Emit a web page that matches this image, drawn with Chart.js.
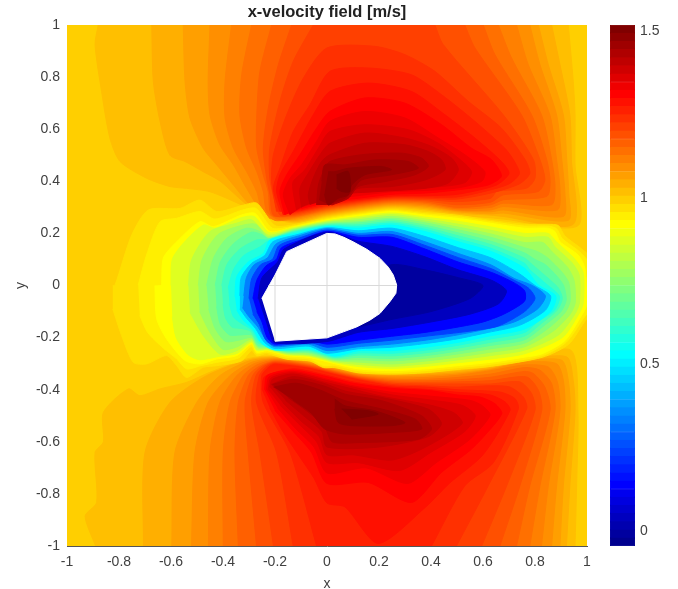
<!DOCTYPE html>
<html lang="en">
  <head>
    <meta charset="UTF-8" />
    <title>x-velocity field</title>
    <script src="https://cdn.jsdelivr.net/npm/chart.js"></script>
    <style>
      body { margin: 0; background: #fff; }
      #wrap { position: relative; width: 678px; height: 589px; overflow: hidden; }
      canvas { position: absolute; top: 0; }
      #field { left: 0; }
      #colorbar { left: 600px; }
    </style>
  </head>
  <body>
    <div id="wrap">
      <canvas id="field" width="678" height="589"></canvas>
      <canvas id="colorbar" width="78" height="589"></canvas>
    </div>
    <script>
      // contour outlines as [x, y]. number = jet(64) colour index
      const tickValues = [-1, -0.8, -0.6, -0.4, -0.2, 0, 0.2, 0.4, 0.6, 0.8, 1];
      const colorbarTicks = [0, 0.5, 1, 1.5];
      const colorbarMin = -0.045;
      const colorbarMax = 1.518;
      const baseLevel = 43;
      const plotSquare = [[-1,-1],[1,-1],[1,1],[-1,1]];

      // regions above a level, upper half
      const upper44 = [[-.88,1],[-.892,.925],[-.867,.745],[-.835,.566],[-.796,.476],[-.694,.412],[-.604,.38],[-.54,.373],[-.45,.36],[-.33,.31],[-.25,.27],[-.13,.241],[0,.268],[.12,.286],[.25,.3],[.38,.29],[.5,.272],[.63,.26],[.678,.255],[.966,.23],[.954,.463],[.954,.655],[.947,.784],[.928,1]];
      const upper45 = [[-.674,1],[-.668,.784],[-.642,.63],[-.604,.5],[-.546,.476],[-.476,.437],[-.41,.4],[-.32,.32],[-.25,.275],[-.13,.245],[0,.272],[.12,.29],[.25,.304],[.38,.295],[.5,.278],[.63,.27],[.678,.265],[.947,.235],[.94,.483],[.934,.655],[.896,.848],[.864,1]];
      const upper46 = [[-.553,1],[-.546,.784],[-.527,.643],[-.476,.527],[-.424,.463],[-.36,.386],[-.296,.309],[-.24,.27],[-.13,.249],[0,.276],[.12,.294],[.25,.308],[.38,.3],[.5,.283],[.63,.275],[.678,.278],[.928,.25],[.93,.35],[.922,.483],[.909,.655],[.851,.848],[.813,1]];
      const upper47 = [[-.45,1],[-.457,.784],[-.45,.655],[-.412,.54],[-.36,.463],[-.309,.373],[-.27,.309],[-.23,.26],[-.13,.253],[0,.28],[.12,.298],[.25,.312],[.38,.305],[.5,.287],[.63,.283],[.678,.29],[.909,.265],[.915,.354],[.903,.483],[.883,.655],[.819,.848],[.78,1]];
      const upper48 = [[-.367,1],[-.392,.784],[-.392,.643],[-.36,.527],[-.309,.437],[-.27,.36],[-.251,.296],[-.2,.25],[-.13,.257],[0,.284],[.12,.302],[.25,.316],[.38,.31],[.5,.29],[.63,.29],[.678,.303],[.886,.29],[.896,.367],[.883,.483],[.857,.655],[.774,.848],[.729,1]];
      const upper49 = [[-.29,1],[-.328,.81],[-.335,.655],[-.309,.527],[-.27,.437],[-.245,.36],[-.232,.284],[-.19,.255],[-.13,.261],[0,.288],[.12,.306],[.25,.32],[.38,.315],[.5,.295],[.63,.3],[.678,.316],[.864,.31],[.877,.38],[.864,.483],[.825,.655],[.71,.873],[.659,1]];
      const upper50 = [[-.213,1],[-.258,.822],[-.27,.655],[-.27,.527],[-.245,.424],[-.226,.36],[-.213,.27],[-.13,.265],[0,.292],[.12,.31],[.25,.324],[.38,.32],[.5,.3],[.63,.31],[.678,.329],[.845,.342],[.858,.4],[.845,.483],[.787,.655],[.646,.886],[.601,1]];
      const upper51 = [[-.136,1],[-.187,.848],[-.226,.68],[-.245,.527],[-.232,.412],[-.219,.348],[-.206,.27],[-.13,.269],[0,.296],[.12,.314],[.25,.328],[.38,.325],[.5,.31],[.63,.32],[.678,.348],[.813,.361],[.838,.406],[.819,.483],[.748,.655],[.569,.912],[.53,1]];
      const upper52 = [[-.053,1],[-.13,.86],[-.181,.707],[-.22,.527],[-.22,.412],[-.2,.322],[-.18,.27],[-.13,.273],[0,.3],[.12,.318],[.25,.332],[.38,.33],[.5,.322],[.63,.335],[.653,.361],[.768,.374],[.8,.412],[.794,.483],[.678,.655],[.447,.925],[.415,1]];
      const upper53 = [[-.194,.284],[-.213,.399],[-.206,.502],[-.155,.655],[-.091,.796],[0,.912],[.184,.918],[.3,.886],[.415,.822],[.543,.707],[.671,.604],[.762,.483],[.78,.43],[.74,.39],[.63,.355],[.5,.332],[.38,.335],[.25,.336],[.12,.322],[0,.304],[-.13,.277]];
      const upper54 = [[-.181,.284],[-.206,.373],[-.181,.45],[-.13,.591],[-.065,.694],[.011,.822],[.159,.835],[.325,.809],[.441,.732],[.569,.63],[.684,.527],[.717,.483],[.74,.43],[.7,.39],[.6,.36],[.5,.34],[.38,.34],[.25,.34],[.12,.326],[0,.308],[-.13,.281]];
      const upper55 = [[-.168,.271],[-.194,.361],[-.181,.425],[-.13,.514],[-.053,.655],[.011,.745],[.159,.777],[.325,.745],[.454,.655],[.569,.566],[.671,.476],[.7,.43],[.65,.385],[.5,.35],[.38,.345],[.25,.344],[.12,.33],[0,.315],[-.1,.29]];
      const upper56 = [[-.162,.271],[-.181,.361],[-.155,.425],[-.104,.502],[-.04,.604],[.011,.668],[.146,.72],[.3,.7],[.441,.617],[.556,.527],[.633,.483],[.671,.42],[.62,.386],[.5,.367],[.38,.355],[.25,.35],[.12,.335],[0,.32],[-.1,.295]];
      const upper57 = [[-.142,.271],[-.168,.348],[-.142,.412],[-.098,.463],[-.04,.553],[.011,.63],[.146,.668],[.3,.643],[.428,.566],[.53,.502],[.607,.437],[.595,.4],[.505,.375],[.38,.365],[.25,.36],[.12,.345],[0,.33],[-.1,.3]];
      const upper58 = [[-.117,.29],[-.13,.36],[-.13,.399],[-.085,.444],[-.033,.527],[.011,.591],[.146,.617],[.313,.598],[.428,.546],[.505,.489],[.556,.437],[.53,.395],[.415,.378],[.25,.37],[.12,.36],[0,.34],[-.08,.31]];
      const upper59 = [[-.098,.3],[-.104,.373],[-.072,.431],[-.027,.502],[.011,.546],[.146,.585],[.3,.566],[.402,.534],[.479,.489],[.505,.444],[.466,.393],[.377,.373],[.184,.36],[.05,.35],[-.05,.32]];
      const upper60 = [[-.065,.31],[-.072,.348],[-.053,.412],[-.021,.476],[.011,.502],[.146,.546],[.3,.54],[.39,.514],[.441,.482],[.454,.444],[.377,.405],[.248,.38],[.12,.373],[.056,.341],[0,.33]];
      const upper61 = [[-.04,.309],[-.033,.386],[-.014,.437],[.011,.476],[.133,.502],[.287,.508],[.364,.489],[.39,.457],[.338,.425],[.223,.399],[.12,.38],[.082,.335],[.018,.309]];
      const upper62 = [[-.02,.4],[-.008,.463],[.069,.463],[.184,.482],[.313,.476],[.351,.45],[.248,.425],[.133,.405],[.095,.361],[.069,.335],[.005,.316],[-.03,.33]];
      const upper63 = [[.005,.437],[.03,.437],[.082,.45],[.21,.457],[.248,.444],[.146,.425],[.095,.386],[.082,.348],[.043,.335],[.005,.309],[-.01,.35]];
      const upper64 = [[.037,.425],[.082,.437],[.088,.361],[.056,.361],[.037,.373]];

      // regions above a level, lower half
      const lower44 = [[-.89,-1],[-.93,-.885],[-.886,-.833],[-.892,-.641],[-.86,-.6],[-.86,-.487],[-.764,-.397],[-.72,-.423],[-.642,-.397],[-.54,-.372],[-.45,-.333],[-.3,-.28],[-.2,-.272],[-.07,-.288],[.03,-.312],[.12,-.332],[.25,-.339],[.38,-.332],[.5,-.325],[.63,-.31],[.76,-.28],[.94,-.25],[.965,-.48],[.96,-.769],[.954,-1]];
      const lower45 = [[-.706,-1],[-.7,-.641],[-.604,-.449],[-.463,-.346],[-.3,-.285],[-.2,-.275],[-.07,-.291],[.03,-.315],[.12,-.335],[.25,-.343],[.38,-.337],[.5,-.33],[.63,-.315],[.76,-.285],[.922,-.274],[.947,-.364],[.954,-.479],[.934,-.769],[.921,-1]];
      const lower46 = [[-.597,-1],[-.585,-.641],[-.501,-.449],[-.412,-.346],[-.3,-.29],[-.2,-.278],[-.07,-.294],[.03,-.318],[.12,-.338],[.25,-.346],[.38,-.342],[.5,-.335],[.63,-.32],[.76,-.29],[.903,-.287],[.928,-.364],[.935,-.479],[.909,-.769],[.896,-1]];
      const lower47 = [[-.521,-1],[-.508,-.641],[-.457,-.449],[-.373,-.346],[-.29,-.295],[-.2,-.281],[-.07,-.297],[.03,-.321],[.12,-.341],[.25,-.35],[.38,-.347],[.5,-.34],[.63,-.323],[.76,-.295],[.883,-.3],[.909,-.364],[.915,-.479],[.883,-.769],[.864,-1]];
      const lower48 = [[-.456,-1],[-.45,-.641],[-.412,-.449],[-.347,-.346],[-.28,-.3],[-.2,-.284],[-.07,-.3],[.03,-.324],[.12,-.344],[.25,-.355],[.38,-.353],[.5,-.345],[.63,-.327],[.76,-.305],[.851,-.313],[.886,-.37],[.896,-.479],[.851,-.769],[.825,-1]];
      const lower49 = [[-.399,-1],[-.399,-.641],[-.373,-.449],[-.322,-.346],[-.27,-.305],[-.2,-.287],[-.07,-.303],[.03,-.327],[.12,-.347],[.25,-.36],[.38,-.36],[.5,-.353],[.63,-.34],[.76,-.315],[.819,-.325],[.864,-.377],[.877,-.479],[.819,-.769],[.78,-1]];
      const lower50 = [[-.341,-1],[-.354,-.641],[-.341,-.449],[-.303,-.346],[-.26,-.31],[-.2,-.29],[-.07,-.306],[.03,-.33],[.12,-.35],[.25,-.365],[.38,-.366],[.5,-.362],[.63,-.352],[.76,-.33],[.794,-.338],[.838,-.39],[.858,-.479],[.78,-.769],[.729,-1]];
      const lower51 = [[-.271,-1],[-.303,-.641],[-.315,-.449],[-.286,-.346],[-.25,-.31],[-.2,-.293],[-.07,-.309],[.03,-.333],[.12,-.353],[.25,-.37],[.38,-.372],[.5,-.37],[.63,-.365],[.768,-.351],[.813,-.402],[.826,-.479],[.742,-.769],[.665,-1]];
      const lower52 = [[-.206,-1],[-.258,-.641],[-.29,-.449],[-.273,-.346],[-.24,-.31],[-.2,-.296],[-.07,-.312],[.03,-.336],[.12,-.356],[.25,-.375],[.38,-.378],[.5,-.378],[.63,-.378],[.742,-.37],[.787,-.415],[.8,-.479],[.691,-.769],[.595,-1]];
      const lower53 = [[-.13,-1],[-.194,-.641],[-.271,-.449],[-.26,-.346],[-.23,-.31],[-.2,-.299],[-.07,-.315],[.03,-.339],[.12,-.359],[.25,-.38],[.38,-.385],[.5,-.39],[.63,-.385],[.704,-.39],[.755,-.428],[.768,-.473],[.62,-.769],[.498,-1]];
      const lower54 = [[-.04,-1],[-.142,-.641],[-.245,-.449],[-.251,-.346],[-.22,-.31],[-.2,-.302],[-.07,-.318],[.03,-.342],[.12,-.362],[.25,-.385],[.38,-.39],[.5,-.4],[.665,-.409],[.723,-.434],[.736,-.473],[.64,-.68],[.53,-.769],[.402,-1]];
      const lower55 = [[-.25,-.4],[-.24,-.35],[-.13,-.32],[0,-.345],[.1,-.37],[.25,-.39],[.4,-.4],[.5,-.41],[.627,-.42],[.685,-.447],[.704,-.479],[.6,-.65],[.47,-.76],[.38,-.85],[.197,-.99],[.069,-.85],[0,-.835],[-.05,-.74],[-.11,-.65],[-.17,-.56],[-.22,-.47]];
      const lower56 = [[-.24,-.4],[-.23,-.345],[-.13,-.325],[0,-.35],[.1,-.375],[.25,-.395],[.4,-.404],[.5,-.42],[.588,-.428],[.646,-.454],[.672,-.492],[.6,-.583],[.55,-.633],[.44,-.718],[.325,-.833],[.159,-.756],[0,-.76],[-.06,-.64],[-.13,-.56],[-.2,-.48]];
      const lower57 = [[-.233,-.4],[-.222,-.35],[-.13,-.33],[0,-.36],[.1,-.385],[.25,-.41],[.4,-.425],[.55,-.441],[.595,-.46],[.627,-.498],[.55,-.59],[.42,-.68],[.31,-.76],[.15,-.7],[0,-.72],[-.05,-.62],[-.12,-.55],[-.19,-.47]];
      const lower58 = [[-.226,-.4],[-.215,-.355],[-.13,-.335],[0,-.365],[.1,-.39],[.25,-.42],[.4,-.44],[.52,-.46],[.57,-.5],[.53,-.56],[.4,-.64],[.28,-.71],[.12,-.68],[0,-.68],[-.04,-.6],[-.11,-.53],[-.18,-.46]];
      const lower59 = [[-.22,-.39],[-.21,-.36],[-.13,-.34],[-.014,-.37],[.069,-.39],[.21,-.425],[.4,-.46],[.49,-.49],[.52,-.53],[.38,-.62],[.25,-.67],[.1,-.65],[0,-.65],[-.03,-.58],[-.1,-.52],[-.17,-.45]];
      const lower60 = [[-.215,-.38],[-.13,-.35],[-.014,-.375],[.069,-.405],[.21,-.43],[.39,-.475],[.44,-.53],[.39,-.58],[.2,-.62],[0,-.62],[-.02,-.56],[-.09,-.5],[-.16,-.44]];
      const lower61 = [[-.21,-.38],[-.13,-.36],[-.014,-.385],[.069,-.417],[.21,-.442],[.364,-.5],[.402,-.551],[.351,-.59],[.12,-.603],[.02,-.6],[-.01,-.54],[-.08,-.48],[-.15,-.43]];
      const lower62 = [[-.205,-.39],[-.12,-.375],[-.03,-.4],[.069,-.442],[.21,-.474],[.34,-.513],[.364,-.551],[.248,-.564],[.069,-.57],[-.01,-.55],[-.06,-.49],[-.13,-.44]];
      const lower63 = [[.03,-.436],[.069,-.462],[.184,-.481],[.3,-.526],[.248,-.538],[.095,-.538],[.043,-.526],[.03,-.474]];
      const lower64 = [[.056,-.474],[.159,-.481],[.197,-.494],[.095,-.513]];

      // regions below a level, around the body and its wake
      const wake42 = [[-.824,0],[-.815,.002],[-.751,.194],[-.687,.29],[-.565,.296],[-.489,.328],[-.424,.284],[-.32,.309],[-.27,.316],[-.2,.23],[-.13,.233],[0,.26],[.12,.278],[.25,.292],[.38,.28],[.5,.27],[.63,.25],[.76,.235],[.85,.235],[.89,.23],[.915,.19],[.98,.14],[1.02,.1],[1.02,-.1],[.99,-.14],[.93,-.225],[.83,-.275],[.633,-.31],[.505,-.322],[.377,-.335],[.248,-.34],[.12,-.335],[.03,-.315],[-.014,-.315],[-.065,-.29],[-.155,-.283],[-.232,-.262],[-.27,-.27],[-.29,-.25],[-.33,-.29],[-.424,-.308],[-.476,-.314],[-.54,-.353],[-.578,-.308],[-.617,-.269],[-.694,-.301],[-.745,-.295],[-.79,-.192],[-.824,-.09]];
      const wake41 = [[-.726,.002],[-.694,.117],[-.642,.245],[-.578,.258],[-.489,.284],[-.431,.255],[-.324,.29],[-.273,.296],[-.21,.22],[-.13,.228],[0,.256],[.12,.274],[.25,.288],[.38,.275],[.5,.264],[.63,.245],[.76,.228],[.85,.228],[.883,.218],[.905,.18],[.973,.128],[1.01,.08],[1.01,-.09],[.985,-.128],[.92,-.218],[.828,-.269],[.633,-.302],[.505,-.315],[.377,-.327],[.248,-.334],[.12,-.327],[.03,-.307],[-.014,-.307],[-.065,-.283],[-.155,-.276],[-.232,-.256],[-.27,-.262],[-.292,-.235],[-.34,-.278],[-.424,-.295],[-.482,-.307],[-.54,-.32],[-.58,-.28],[-.63,-.24],[-.69,-.18],[-.72,-.115]];
      const wake40 = [[-.636,.002],[-.63,.104],[-.591,.155],[-.489,.245],[-.437,.226],[-.328,.271],[-.277,.277],[-.219,.207],[-.13,.225],[0,.252],[.12,.27],[.25,.284],[.38,.27],[.5,.258],[.63,.239],[.76,.22],[.85,.22],[.877,.207],[.896,.168],[.966,.117],[.992,.066],[.998,-.077],[.979,-.115],[.915,-.212],[.825,-.263],[.76,-.275],[.63,-.295],[.5,-.308],[.38,-.32],[.25,-.327],[.12,-.32],[.03,-.3],[-.07,-.276],[-.155,-.269],[-.23,-.25],[-.27,-.256],[-.29,-.224],[-.347,-.269],[-.424,-.282],[-.488,-.301],[-.546,-.288],[-.617,-.205],[-.655,-.128],[-.662,0]];
      const wake38 = [[-.6,0],[-.595,.1],[-.55,.165],[-.475,.232],[-.43,.22],[-.33,.26],[-.28,.265],[-.222,.203],[-.13,.222],[0,.249],[.12,.264],[.25,.278],[.38,.262],[.5,.247],[.63,.225],[.76,.2],[.85,.2],[.885,.165],[.95,.105],[.985,.05],[.985,-.07],[.965,-.115],[.905,-.2],[.76,-.262],[.63,-.282],[.5,-.297],[.38,-.31],[.25,-.318],[.12,-.311],[.03,-.296],[-.07,-.272],[-.155,-.266],[-.23,-.247],[-.27,-.25],[-.29,-.218],[-.345,-.26],[-.42,-.273],[-.49,-.285],[-.535,-.265],[-.58,-.2],[-.595,-.12]];
      const wake36 = [[-.533,0],[-.52,.1],[-.45,.207],[-.348,.239],[-.29,.252],[-.226,.194],[-.13,.218],[0,.245],[.12,.258],[.25,.272],[.38,.255],[.5,.236],[.63,.212],[.76,.185],[.85,.185],[.875,.15],[.94,.09],[.97,.04],[.97,-.07],[.95,-.115],[.89,-.19],[.76,-.248],[.63,-.269],[.5,-.286],[.38,-.3],[.25,-.31],[.12,-.303],[.03,-.292],[-.07,-.268],[-.155,-.263],[-.23,-.244],[-.27,-.245],[-.29,-.212],[-.347,-.25],[-.412,-.263],[-.476,-.192],[-.527,-.103]];
      const wake34 = [[-.495,0],[-.48,.1],[-.42,.195],[-.33,.23],[-.275,.235],[-.225,.187],[-.13,.215],[0,.242],[.12,.252],[.25,.265],[.38,.247],[.5,.225],[.63,.198],[.76,.165],[.83,.165],[.865,.13],[.925,.07],[.95,.02],[.955,-.065],[.935,-.11],[.87,-.175],[.76,-.235],[.63,-.256],[.5,-.275],[.38,-.29],[.25,-.301],[.12,-.294],[.03,-.288],[-.07,-.265],[-.155,-.26],[-.23,-.241],[-.265,-.24],[-.29,-.205],[-.345,-.235],[-.4,-.245],[-.45,-.18],[-.49,-.1]];
      const wake32 = [[-.463,0],[-.437,.104],[-.386,.181],[-.309,.22],[-.258,.207],[-.226,.181],[-.13,.212],[0,.238],[.12,.245],[.25,.258],[.38,.24],[.5,.215],[.63,.185],[.76,.145],[.81,.13],[.85,.105],[.905,.05],[.93,.01],[.935,-.06],[.915,-.105],[.85,-.165],[.76,-.221],[.63,-.243],[.5,-.263],[.38,-.279],[.25,-.289],[.12,-.285],[.03,-.285],[-.07,-.259],[-.155,-.257],[-.23,-.238],[-.265,-.235],[-.29,-.2],[-.34,-.21],[-.39,-.215],[-.43,-.165],[-.455,-.09]];
      const wake30 = [[-.43,0],[-.41,.09],[-.36,.16],[-.29,.205],[-.25,.195],[-.223,.18],[-.13,.209],[0,.235],[.12,.24],[.25,.252],[.38,.231],[.5,.203],[.63,.17],[.76,.125],[.8,.1],[.84,.08],[.885,.035],[.91,0],[.92,-.055],[.9,-.1],[.84,-.15],[.76,-.208],[.63,-.23],[.5,-.252],[.38,-.269],[.25,-.28],[.12,-.276],[.03,-.281],[-.07,-.255],[-.155,-.254],[-.23,-.234],[-.265,-.23],[-.29,-.19],[-.335,-.19],[-.375,-.19],[-.41,-.15],[-.425,-.08]];
      const wake28 = [[-.405,0],[-.385,.08],[-.335,.14],[-.27,.175],[-.235,.175],[-.22,.178],[-.13,.206],[0,.232],[.12,.233],[.25,.245],[.38,.223],[.5,.192],[.63,.157],[.76,.105],[.79,.08],[.825,.05],[.865,.015],[.89,-.01],[.905,-.05],[.885,-.095],[.825,-.145],[.76,-.194],[.63,-.218],[.5,-.241],[.38,-.258],[.25,-.27],[.12,-.267],[.03,-.277],[-.07,-.25],[-.155,-.251],[-.23,-.231],[-.265,-.22],[-.295,-.175],[-.33,-.165],[-.365,-.16],[-.39,-.125],[-.4,-.07]];
      const wake26 = [[-.38,-.01],[-.36,.06],[-.32,.115],[-.255,.15],[-.228,.17],[-.13,.203],[0,.229],[.12,.227],[.25,.239],[.38,.215],[.5,.18],[.63,.143],[.76,.085],[.78,.06],[.815,.03],[.85,0],[.875,-.02],[.895,-.045],[.875,-.095],[.81,-.14],[.76,-.18],[.63,-.205],[.5,-.23],[.38,-.248],[.25,-.26],[.12,-.259],[.03,-.274],[-.07,-.246],[-.155,-.248],[-.23,-.228],[-.26,-.215],[-.29,-.17],[-.33,-.145],[-.36,-.12],[-.375,-.07]];
      const wake24 = [[-.354,-.043],[-.347,.034],[-.302,.091],[-.245,.123],[-.219,.175],[-.117,.2],[0,.226],[.12,.22],[.25,.232],[.377,.207],[.505,.168],[.633,.13],[.76,.066],[.813,.002],[.88,-.04],[.86,-.1],[.76,-.167],[.633,-.192],[.505,-.218],[.377,-.237],[.248,-.25],[.12,-.25],[.03,-.27],[-.072,-.242],[-.2,-.248],[-.25,-.223],[-.283,-.17],[-.322,-.133],[-.347,-.095]];
      const wake20 = [[-.335,-.04],[-.33,.03],[-.29,.085],[-.24,.115],[-.208,.168],[-.115,.195],[0,.222],[.12,.21],[.25,.22],[.377,.188],[.505,.145],[.633,.105],[.74,.045],[.8,0],[.86,-.04],[.84,-.095],[.74,-.153],[.62,-.18],[.5,-.205],[.377,-.223],[.248,-.237],[.12,-.243],[0,-.26],[-.07,-.233],[-.2,-.242],[-.24,-.219],[-.275,-.165],[-.31,-.125],[-.335,-.09]];
      const wake16 = [[-.32,-.04],[-.31,.03],[-.28,.08],[-.23,.105],[-.195,.16],[-.11,.19],[0,.218],[.12,.2],[.25,.207],[.377,.168],[.505,.123],[.633,.078],[.72,.027],[.79,0],[.84,-.04],[.81,-.09],[.72,-.14],[.6,-.17],[.5,-.19],[.377,-.21],[.248,-.225],[.12,-.235],[0,-.25],[-.07,-.225],[-.2,-.235],[-.23,-.215],[-.265,-.16],[-.3,-.12],[-.325,-.085]];
      const wake12 = [[-.3,-.05],[-.29,.025],[-.255,.08],[-.21,.1],[-.185,.153],[-.105,.183],[0,.213],[.12,.193],[.25,.196],[.377,.154],[.505,.107],[.633,.064],[.72,.02],[.775,-.01],[.8,-.05],[.76,-.1],[.66,-.155],[.55,-.175],[.377,-.195],[.248,-.21],[.12,-.222],[0,-.237],[-.07,-.217],[-.2,-.23],[-.235,-.21],[-.26,-.15],[-.285,-.11]];
      const wake8 = [[-.285,-.05],[-.27,.02],[-.235,.075],[-.195,.1],[-.175,.145],[-.1,.175],[0,.208],[.12,.185],[.25,.185],[.377,.14],[.505,.09],[.633,.05],[.72,.01],[.76,-.02],[.76,-.06],[.68,-.11],[.6,-.14],[.5,-.16],[.377,-.18],[.248,-.195],[.12,-.21],[0,-.225],[-.07,-.21],[-.2,-.225],[-.23,-.2],[-.25,-.14],[-.27,-.1]];
      const wake4 = [[-.265,-.05],[-.25,.03],[-.19,.09],[-.165,.14],[0,.205],[.12,.17],[.25,.15],[.377,.11],[.505,.06],[.633,.02],[.69,-.02],[.66,-.07],[.55,-.11],[.4,-.14],[.25,-.165],[.12,-.18],[0,-.215],[-.2,-.22],[-.225,-.17]];
      const wake2 = [[0,0],[.25,.08],[.377,.06],[.505,.03],[.6,0],[.55,-.05],[.4,-.1],[.25,-.13],[.12,-.16]];

      const bodyOutline = [[-.251,-.05],[-.2,.04],[-.155,.13],[-.001,.2],[.031,.198],[.065,.185],[.1,.168],[.153,.139],[.204,.104],[.236,.07],[.255,.04],[.268,.002],[.265,-.03],[.242,-.062],[.204,-.107],[.165,-.133],[.114,-.159],[.063,-.178],[0,-.201],[-.2,-.214]];
      // the axes' grid only shows through the empty body
      const bodyGridLines = [
        [[-.2,-.214],[-.2,.04]],
        [[0,-.201],[0,.2]],
        [[.2,-.107],[.2,.107]],
        [[-.225,0],[.268,0]],
      ];

      const contourTable = [
        [baseLevel, plotSquare],
        [44, upper44], [44, lower44], [45, upper45], [45, lower45], [46, upper46], [46, lower46],
        [47, upper47], [47, lower47], [48, upper48], [48, lower48], [49, upper49], [49, lower49],
        [50, upper50], [50, lower50], [51, upper51], [51, lower51], [52, upper52], [52, lower52],
        [53, upper53], [53, lower53], [54, upper54], [54, lower54], [55, upper55], [55, lower55],
        [56, upper56], [56, lower56], [57, upper57], [57, lower57], [58, upper58], [58, lower58],
        [59, upper59], [59, lower59], [60, upper60], [60, lower60], [61, upper61], [61, lower61],
        [62, upper62], [62, lower62], [63, upper63], [63, lower63], [64, upper64], [64, lower64],
        [42, wake42], [41, wake41], [40, wake40], [38, wake38], [36, wake36], [34, wake34],
        [32, wake32], [30, wake30], [28, wake28], [26, wake26], [24, wake24], [20, wake20],
        [16, wake16], [12, wake12], [8, wake8], [4, wake4], [2, wake2],
      ];

      // MATLAB jet(64), index 1..64
      function jet(i) {
        const r = i <= 24 ? 0 : i <= 40 ? (i - 24) / 16 : i <= 56 ? 1 : 1 - (i - 56) / 16;
        const g = i <= 8 ? 0 : i <= 24 ? (i - 8) / 16 : i <= 40 ? 1 : i <= 56 ? (56 - i) / 16 : 0;
        const b = i <= 8 ? (i + 8) / 16 : i <= 24 ? 1 : i <= 40 ? (40 - i) / 16 : 0;
        return `rgb(${Math.round(r * 255)},${Math.round(g * 255)},${Math.round(b * 255)})`;
      }

      function toPoints(pairs) {
        return pairs.map(([x, y]) => ({ x, y }));
      }

      function region(pairs, color, tension) {
        return {
          data: toPoints(pairs),
          showLine: true,
          fill: "shape",
          backgroundColor: color,
          borderColor: color,
          borderWidth: 1,
          pointRadius: 0,
          tension: tension,
        };
      }

      const textColor = "#404040";
      const tickFont = { family: "'Liberation Sans'", size: 14 };

      const fieldDatasets = contourTable.map(([level, pairs]) =>
        region(pairs, jet(level), pairs === plotSquare ? 0 : 0.25)
      );
      fieldDatasets.push(region(bodyOutline, "#ffffff", 0));
      bodyGridLines.forEach((pairs) => {
        fieldDatasets.push({
          data: toPoints(pairs),
          showLine: true,
          borderColor: "#d9d9d9",
          borderWidth: 1,
          pointRadius: 0,
        });
      });
      // chart.js paints the first dataset last
      fieldDatasets.reverse();

      new Chart(document.getElementById("field"), {
        type: "scatter",
        data: { datasets: fieldDatasets },
        options: {
          responsive: false,
          animation: false,
          events: [],
          layout: { padding: { left: 0, right: 91, top: 0, bottom: 0 } },
          plugins: {
            legend: { display: false },
            tooltip: { enabled: false },
            title: {
              display: true,
              fullSize: false,
              text: "x-velocity field [m/s]",
              color: "#222",
              font: { family: "'Liberation Sans'", size: 16.5, weight: "bold" },
              padding: { top: 3, bottom: 2.2 },
            },
          },
          scales: {
            x: {
              type: "linear",
              min: -1,
              max: 1,
              afterBuildTicks: (axis) => { axis.ticks = tickValues.map((value) => ({ value })); },
              afterFit: (axis) => { axis.height = 43; },
              ticks: {
                color: textColor,
                font: tickFont,
                padding: 8,
                maxRotation: 0,
                autoSkip: false,
                callback: (v) => String(v),
              },
              grid: { display: false, drawTicks: false },
              border: { color: "#555", width: 1 },
              title: { display: true, text: "x", color: textColor, font: tickFont, padding: { top: 0, bottom: -4 } },
            },
            y: {
              type: "linear",
              min: -1,
              max: 1,
              afterBuildTicks: (axis) => { axis.ticks = tickValues.map((value) => ({ value })); },
              afterFit: (axis) => { axis.width = 67; },
              ticks: {
                color: textColor,
                font: tickFont,
                padding: 7,
                autoSkip: false,
                callback: (v) => String(v),
              },
              grid: { display: false, drawTicks: false },
              border: { display: false },
              title: { display: true, text: "y", color: textColor, font: tickFont, padding: { top: 13, bottom: 0 } },
            },
          },
        },
      });

      // colour bar: one floating bar per colour
      const colorbarLevels = Array.from({ length: 64 }, (_, k) => k + 1);
      const levelStep = (colorbarMax - colorbarMin) / 64;

      new Chart(document.getElementById("colorbar"), {
        type: "bar",
        data: {
          labels: [""],
          datasets: colorbarLevels.map((level) => ({
            data: [[colorbarMin + (level - 1) * levelStep, colorbarMin + level * levelStep]],
            backgroundColor: jet(level),
            borderColor: jet(level),
            borderWidth: 0.5,
            borderSkipped: false,
            barPercentage: 1,
            categoryPercentage: 1,
            grouped: false,
          })),
        },
        options: {
          responsive: false,
          animation: false,
          events: [],
          layout: { padding: { left: 10, right: 0, top: 25, bottom: 43 } },
          plugins: { legend: { display: false }, tooltip: { enabled: false } },
          scales: {
            x: { display: false },
            y: {
              position: "right",
              min: colorbarMin,
              max: colorbarMax,
              afterBuildTicks: (axis) => { axis.ticks = colorbarTicks.map((value) => ({ value })); },
              afterFit: (axis) => { axis.width = 43; },
              ticks: { color: textColor, font: { family: "'Liberation Sans'", size: 14 }, padding: 5, callback: (v) => String(v) },
              grid: { display: false, drawTicks: false },
              border: { display: false },
            },
          },
        },
      });
    </script>
  </body>
</html>
